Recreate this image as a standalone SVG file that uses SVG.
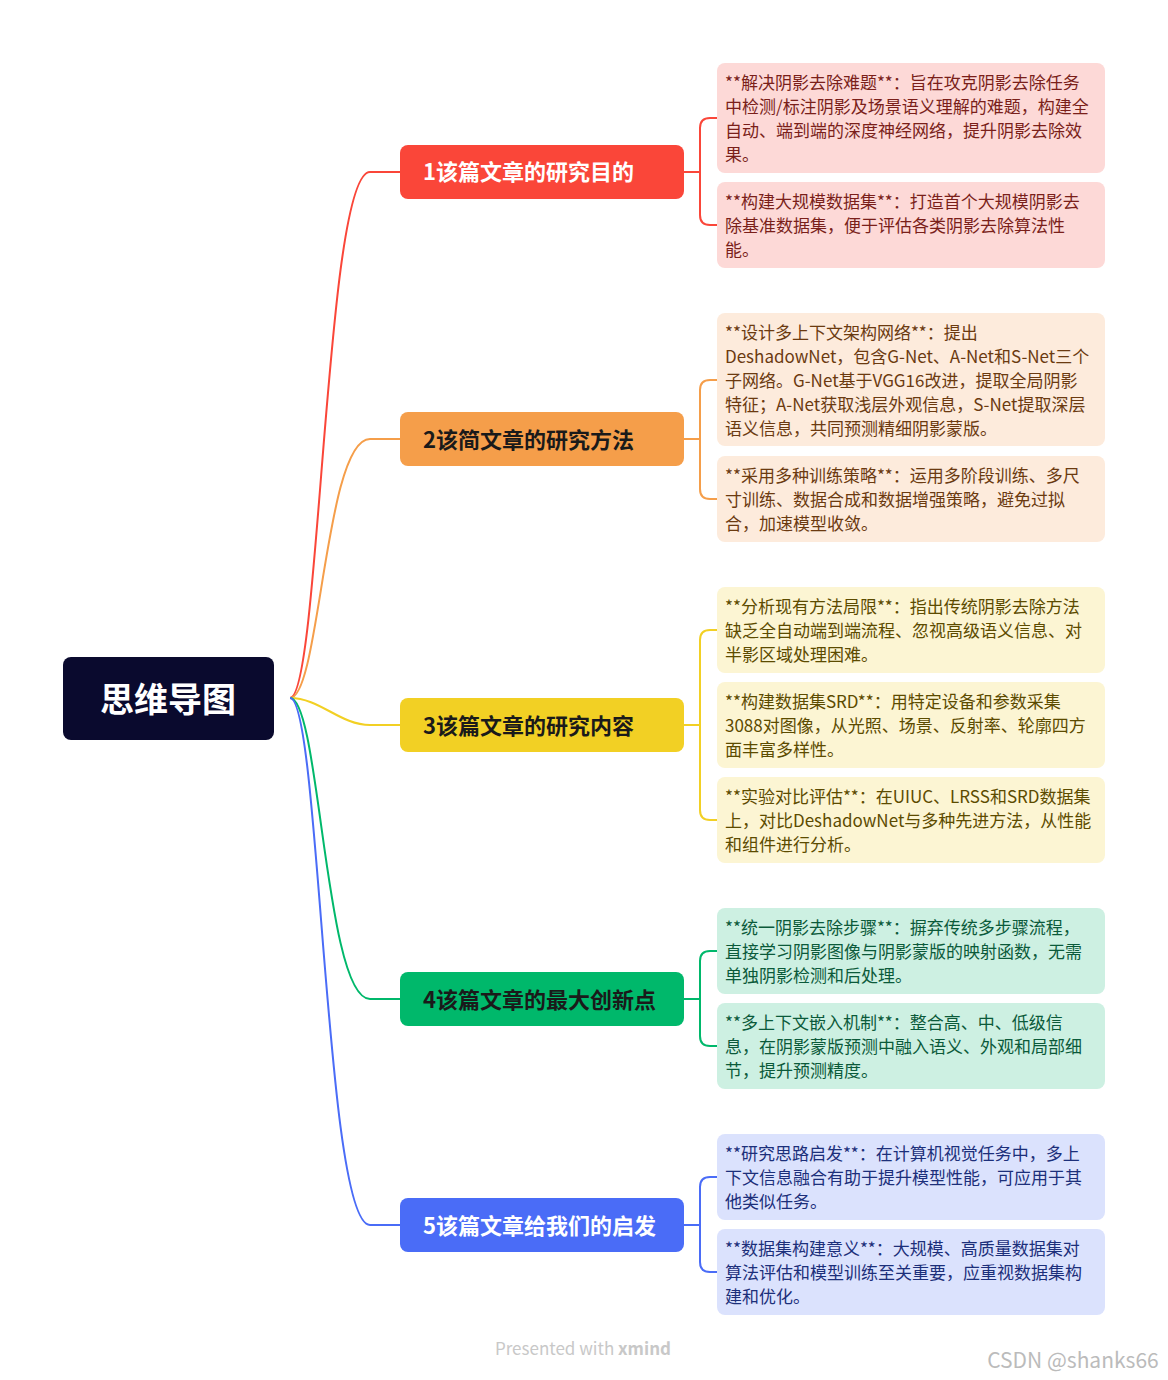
<svg xmlns="http://www.w3.org/2000/svg" width="1168" height="1380" viewBox="0 0 1168 1380">
<style>
text{font-family:"Noto Sans CJK SC","Noto Sans",sans-serif}
.b{font-size:22px;font-weight:bold}
.l{font-size:17px}
.c{fill:none;stroke-width:2}
</style>
<rect width="1168" height="1380" fill="#fff"/>
<g id="connectors">
<path class="c" stroke="#fa4639" d="M290 698 C320 698 325 172 370 172 L400 172 M684 172 H700 M717 118 H710 Q700 118 700 128 V215 Q700 225 710 225 H717"/>
<path class="c" stroke="#f59e4a" d="M290 698 C320 698 325 439 370 439 L400 439 M684 439 H700 M717 380 H710 Q700 380 700 390 V489 Q700 499 710 499 H717"/>
<path class="c" stroke="#f2d024" d="M290 698 C320 698 340 725 370 725 L400 725 M684 725 H700 M717 630 H710 Q700 630 700 640 V810 Q700 820 710 820 H717"/>
<path class="c" stroke="#00b86b" d="M290 698 C320 698 325 999 370 999 L400 999 M684 999 H700 M717 951 H710 Q700 951 700 961 V1036 Q700 1046 710 1046 H717"/>
<path class="c" stroke="#4a6cf7" d="M290 698 C320 698 325 1225 370 1225 L400 1225 M684 1225 H700 M717 1177 H710 Q700 1177 700 1187 V1262 Q700 1272 710 1272 H717"/>
</g>
<g id="root"><rect x="63" y="657" width="211" height="83" rx="8" fill="#0a0a2e"/><text x="168" y="712" text-anchor="middle" font-size="34" font-weight="bold" fill="#fff">思维导图</text></g>
<g id="b1"><rect x="400" y="145" width="284" height="54" rx="8" fill="#fa4639"/><text class="b" x="423" y="180" fill="#fff">1该篇文章的研究目的</text></g>
<g id="b2"><rect x="400" y="412" width="284" height="54" rx="8" fill="#f59e4a"/><text class="b" x="423" y="448" fill="#1a1a1a">2该简文章的研究方法</text></g>
<g id="b3"><rect x="400" y="698" width="284" height="54" rx="8" fill="#f2d024"/><text class="b" x="423" y="734" fill="#1a1a1a">3该篇文章的研究内容</text></g>
<g id="b4"><rect x="400" y="972" width="284" height="54" rx="8" fill="#00b86b"/><text class="b" x="423" y="1008" fill="#1a1a1a">4该篇文章的最大创新点</text></g>
<g id="b5"><rect x="400" y="1198" width="284" height="54" rx="8" fill="#4a6cf7"/><text class="b" x="423" y="1234" fill="#fff">5该篇文章给我们的启发</text></g>
<g id="l1a"><rect x="717" y="63" width="388" height="110" rx="8" fill="#fdd9d7"/><text class="l" fill="#7a1f1a"><tspan x="725" y="89">**解决阴影去除难题**：旨在攻克阴影去除任务</tspan><tspan x="725" y="113">中检测/标注阴影及场景语义理解的难题，构建全</tspan><tspan x="725" y="137">自动、端到端的深度神经网络，提升阴影去除效</tspan><tspan x="725" y="161">果。</tspan></text></g>
<g id="l1b"><rect x="717" y="182" width="388" height="86" rx="8" fill="#fdd9d7"/><text class="l" fill="#7a1f1a"><tspan x="725" y="208">**构建大规模数据集**：打造首个大规模阴影去</tspan><tspan x="725" y="232">除基准数据集，便于评估各类阴影去除算法性</tspan><tspan x="725" y="256">能。</tspan></text></g>
<g id="l2a"><rect x="717" y="313" width="388" height="133" rx="8" fill="#fdebdc"/><text class="l" fill="#6b3a10"><tspan x="725" y="339">**设计多上下文架构网络**：提出</tspan><tspan x="725" y="363">DeshadowNet，包含G-Net、A-Net和S-Net三个</tspan><tspan x="725" y="387">子网络。G-Net基于VGG16改进，提取全局阴影</tspan><tspan x="725" y="411">特征；A-Net获取浅层外观信息，S-Net提取深层</tspan><tspan x="725" y="435">语义信息，共同预测精细阴影蒙版。</tspan></text></g>
<g id="l2b"><rect x="717" y="456" width="388" height="86" rx="8" fill="#fdebdc"/><text class="l" fill="#6b3a10"><tspan x="725" y="482">**采用多种训练策略**：运用多阶段训练、多尺</tspan><tspan x="725" y="506">寸训练、数据合成和数据增强策略，避免过拟</tspan><tspan x="725" y="530">合，加速模型收敛。</tspan></text></g>
<g id="l3a"><rect x="717" y="587" width="388" height="86" rx="8" fill="#fcf5d3"/><text class="l" fill="#5c4b00"><tspan x="725" y="613">**分析现有方法局限**：指出传统阴影去除方法</tspan><tspan x="725" y="637">缺乏全自动端到端流程、忽视高级语义信息、对</tspan><tspan x="725" y="661">半影区域处理困难。</tspan></text></g>
<g id="l3b"><rect x="717" y="682" width="388" height="86" rx="8" fill="#fcf5d3"/><text class="l" fill="#5c4b00"><tspan x="725" y="708">**构建数据集SRD**：用特定设备和参数采集</tspan><tspan x="725" y="732">3088对图像，从光照、场景、反射率、轮廓四方</tspan><tspan x="725" y="756">面丰富多样性。</tspan></text></g>
<g id="l3c"><rect x="717" y="777" width="388" height="86" rx="8" fill="#fcf5d3"/><text class="l" fill="#5c4b00"><tspan x="725" y="803">**实验对比评估**：在UIUC、LRSS和SRD数据集</tspan><tspan x="725" y="827">上，对比DeshadowNet与多种先进方法，从性能</tspan><tspan x="725" y="851">和组件进行分析。</tspan></text></g>
<g id="l4a"><rect x="717" y="908" width="388" height="86" rx="8" fill="#cdf0e2"/><text class="l" fill="#0b5a3a"><tspan x="725" y="934">**统一阴影去除步骤**：摒弃传统多步骤流程，</tspan><tspan x="725" y="958">直接学习阴影图像与阴影蒙版的映射函数，无需</tspan><tspan x="725" y="982">单独阴影检测和后处理。</tspan></text></g>
<g id="l4b"><rect x="717" y="1003" width="388" height="86" rx="8" fill="#cdf0e2"/><text class="l" fill="#0b5a3a"><tspan x="725" y="1029">**多上下文嵌入机制**：整合高、中、低级信</tspan><tspan x="725" y="1053">息，在阴影蒙版预测中融入语义、外观和局部细</tspan><tspan x="725" y="1077">节，提升预测精度。</tspan></text></g>
<g id="l5a"><rect x="717" y="1134" width="388" height="86" rx="8" fill="#dbe2fd"/><text class="l" fill="#1c2f7a"><tspan x="725" y="1160">**研究思路启发**：在计算机视觉任务中，多上</tspan><tspan x="725" y="1184">下文信息融合有助于提升模型性能，可应用于其</tspan><tspan x="725" y="1208">他类似任务。</tspan></text></g>
<g id="l5b"><rect x="717" y="1229" width="388" height="86" rx="8" fill="#dbe2fd"/><text class="l" fill="#1c2f7a"><tspan x="725" y="1255">**数据集构建意义**：大规模、高质量数据集对</tspan><tspan x="725" y="1279">算法评估和模型训练至关重要，应重视数据集构</tspan><tspan x="725" y="1303">建和优化。</tspan></text></g>
<text x="583" y="1355" text-anchor="middle" font-size="17" fill="#c8c8c8">Presented with <tspan font-weight="bold">xmind</tspan></text>
<text x="1073" y="1368" text-anchor="middle" font-size="21" fill="#bbbbbb">CSDN @shanks66</text>
</svg>
